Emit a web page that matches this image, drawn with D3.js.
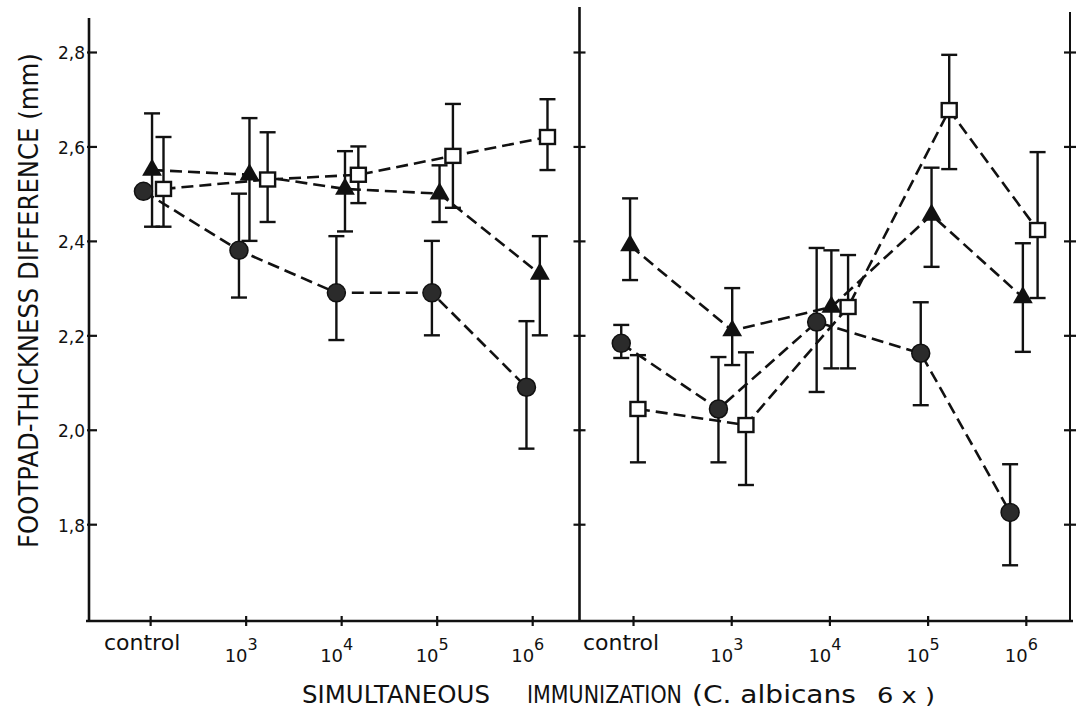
<!DOCTYPE html>
<html>
<head>
<meta charset="utf-8">
<script src="https://cdn.jsdelivr.net/npm/d3@7/dist/d3.min.js"></script>
<style>
  body { margin: 0; background: #fff; }
  svg { display: block; }
  .axis path { display: none; }
  .axis line { stroke: #111; stroke-width: 2.2; }
  .axis text { font-family: "DejaVu Sans", sans-serif; font-size: 17px; fill: #111; }
  .lbl { font-family: "DejaVu Sans", sans-serif; fill: #111; }
</style>
</head>
<body>
<svg id="chart" width="1080" height="711"></svg>
<script>
// categories along the bottom (same in both panels)
var catBase = ["control", "10", "10", "10", "10"];
var catExp  = ["", "3", "4", "5", "6"];
var yTicks = [1.8, 2.0, 2.2, 2.4, 2.6, 2.8];

// left panel
var leftTri     = [2.55, 2.54, 2.51, 2.50, 2.33];
var leftTriHi   = [2.67, 2.66, 2.59, 2.56, 2.41];
var leftTriLo   = [2.43, 2.40, 2.42, 2.44, 2.20];
var leftTriDx   = [0.02, 0.04, 0.04, 0.03, 0.08];

var leftSq      = [2.51, 2.53, 2.54, 2.58, 2.62];
var leftSqHi    = [2.62, 2.63, 2.60, 2.69, 2.70];
var leftSqLo    = [2.43, 2.44, 2.48, 2.47, 2.55];
var leftSqDx    = [0.14, 0.23, 0.18, 0.17, 0.16];

var leftCirc    = [2.505, 2.38, 2.29, 2.29, 2.09];
var leftCircHi  = [2.505, 2.50, 2.41, 2.40, 2.23];
var leftCircLo  = [2.505, 2.28, 2.19, 2.20, 1.96];
var leftCircDx  = [-0.07, -0.07, -0.05, -0.05, -0.06];

// right panel
var rightTri    = [2.39, 2.21, 2.26, 2.455, 2.28];
var rightTriHi  = [2.49, 2.30, 2.38, 2.555, 2.395];
var rightTriLo  = [2.317, 2.137, 2.13, 2.345, 2.165];
var rightTriDx  = [-0.03, 0.01, 0.02, 0.04, -0.03];

var rightSq     = [2.044, 2.01, 2.26, 2.677, 2.423];
var rightSqHi   = [2.158, 2.164, 2.37, 2.794, 2.588];
var rightSqLo   = [1.931, 1.883, 2.13, 2.552, 2.279];
var rightSqDx   = [0.05, 0.15, 0.19, 0.22, 0.12];

var rightCirc   = [2.183, 2.044, 2.228, 2.162, 1.825];
var rightCircHi = [2.222, 2.154, 2.385, 2.27, 1.927];
var rightCircLo = [2.152, 1.931, 2.08, 2.052, 1.713];
var rightCircDx = [-0.12, -0.13, -0.13, -0.07, -0.16];

function rows(v, hi, lo, dx) {
  return v.map(function(d, i) { return {i: i, v: d, hi: hi[i], lo: lo[i], dx: dx[i]}; });
}

var svg = d3.select("#chart");
var BOTTOM = 621, TOP = 18;

var y = d3.scaleLinear().domain([1.595, 2.872]).range([BOTTOM, TOP]);

var panels = [
  { x: d3.scaleLinear().domain([-0.64, 4.49]).range([89, 579]),
    series: [
      {type: "circle", data: rows(leftCirc, leftCircHi, leftCircLo, leftCircDx)},
      {type: "triangle", data: rows(leftTri, leftTriHi, leftTriLo, leftTriDx)},
      {type: "square", data: rows(leftSq, leftSqHi, leftSqLo, leftSqDx)}
    ], labelShift: -8 },
  { x: d3.scaleLinear().domain([-0.54, 4.45]).range([580, 1070]),
    series: [
      {type: "circle", data: rows(rightCirc, rightCircHi, rightCircLo, rightCircDx)},
      {type: "triangle", data: rows(rightTri, rightTriHi, rightTriLo, rightTriDx)},
      {type: "square", data: rows(rightSq, rightSqHi, rightSqLo, rightSqDx)}
    ], labelShift: -12 }
];

// frame lines
function vline(x, top, w) {
  svg.append("line").attr("x1", x).attr("x2", x).attr("y1", top).attr("y2", BOTTOM + 1)
    .attr("stroke", "#111").attr("stroke-width", w);
}
vline(89, TOP, 2.6);
vline(579.5, 7, 2.6);
vline(1070, 12, 2);
svg.append("line").attr("x1", 86).attr("x2", 1073).attr("y1", BOTTOM).attr("y2", BOTTOM)
  .attr("stroke", "#111").attr("stroke-width", 2.6);

// y axis with labels
var yAxis = svg.append("g").attr("class", "axis").attr("transform", "translate(89,0)")
  .call(d3.axisLeft(y).tickValues(yTicks).tickSizeInner(2).tickSizeOuter(0).tickPadding(2)
    .tickFormat(function(d) { return d3.format(".1f")(d).replace(".", ","); }));
yAxis.selectAll(".tick line").attr("x1", 8);
yAxis.selectAll(".tick text").attr("font-size", 17).attr("dy", "0.4em");

// divider and right axes: crossing ticks, no labels
[579.5, 1070].forEach(function(px) {
  var g = svg.append("g").attr("class", "axis").attr("transform", "translate(" + px + ",0)")
    .call(d3.axisLeft(y).tickValues(yTicks).tickSizeInner(6).tickSizeOuter(0).tickFormat(""));
  g.selectAll(".tick line").attr("x1", 6);
});

var line = d3.line();

panels.forEach(function(p) {
  var x = p.x;
  // x ticks
  var gx = svg.append("g").attr("class", "axis").attr("transform", "translate(0," + BOTTOM + ")")
    .call(d3.axisBottom(x).tickValues([0, 1, 2, 3, 4]).tickSizeInner(5).tickSizeOuter(0).tickFormat(""));
  gx.selectAll(".tick line").attr("y1", -5).attr("stroke-width", 2);

  // category labels
  catBase.forEach(function(c, i) {
    if (catExp[i] === "") {
      svg.append("text").attr("class", "lbl")
        .attr("x", x(i) + p.labelShift).attr("y", 650)
        .attr("text-anchor", "middle").attr("font-size", 22).text(c);
    } else {
      var t = svg.append("text").attr("class", "lbl")
        .attr("x", x(i) - 21).attr("y", 662).attr("font-size", 18).text(c);
      t.append("tspan").attr("dy", -12).attr("font-size", 16).text(catExp[i]);
    }
  });

  p.series.forEach(function(s) {
    var pts = s.data.map(function(d) { return [x(d.i + d.dx), y(d.v)]; });
    svg.append("path").attr("d", line(pts))
      .attr("fill", "none").attr("stroke", "#111").attr("stroke-width", 2.6)
      .attr("stroke-dasharray", "12,6");

    // error bars
    var eb = svg.append("g").selectAll("g").data(s.data).join("g")
      .attr("stroke", "#111").attr("stroke-width", 2.4);
    eb.append("line")
      .attr("x1", function(d) { return x(d.i + d.dx); })
      .attr("x2", function(d) { return x(d.i + d.dx); })
      .attr("y1", function(d) { return y(d.hi); })
      .attr("y2", function(d) { return y(d.lo); });
    ["hi", "lo"].forEach(function(k) {
      eb.filter(function(d) { return d.hi !== d.lo; }).append("line")
        .attr("x1", function(d) { return x(d.i + d.dx) - 8; })
        .attr("x2", function(d) { return x(d.i + d.dx) + 8; })
        .attr("y1", function(d) { return y(d[k]); })
        .attr("y2", function(d) { return y(d[k]); });
    });
  });

  // markers on top
  p.series.forEach(function(s) {
    var m = svg.append("g").selectAll("g").data(s.data).join("g")
      .attr("transform", function(d) { return "translate(" + x(d.i + d.dx) + "," + y(d.v) + ")"; });
    if (s.type === "circle") {
      m.append("circle").attr("r", 9).attr("fill", "#2b2b2b").attr("stroke", "#111").attr("stroke-width", 1.5);
    } else if (s.type === "triangle") {
      m.append("path").attr("d", d3.symbol(d3.symbolTriangle, 170)()).attr("fill", "#111");
    } else {
      m.append("rect").attr("x", -7.5).attr("y", -7).attr("width", 15).attr("height", 14)
        .attr("fill", "#fff").attr("stroke", "#111").attr("stroke-width", 2.4);
    }
  });
});

// squeeze a text horizontally so it fills the given width
function fitText(sel, x, yy, w, rot) {
  var natural = sel.node().getComputedTextLength();
  var s = w / natural;
  sel.attr("transform", "translate(" + x + "," + yy + ")" + (rot ? " rotate(-90)" : "") + " scale(" + s + ",1)");
}

// axis titles
var xt = [
  {t: "SIMULTANEOUS", x: 302, w: 188, fs: 24},
  {t: "IMMUNIZATION", x: 527, w: 155, fs: 24},
  {t: "(C. albicans", x: 692, w: 164, fs: 24},
  {t: "6 x )", x: 877, w: 58, fs: 22}
];
xt.forEach(function(d) {
  var t = svg.append("text").attr("class", "lbl").attr("font-size", d.fs).text(d.t);
  fitText(t, d.x, 703, d.w, false);
});

var yt = svg.append("text").attr("class", "lbl").attr("font-size", 26)
  .text("FOOTPAD-THICKNESS DIFFERENCE (mm)");
fitText(yt, 38, 548, 495, true);
</script>
</body>
</html>
